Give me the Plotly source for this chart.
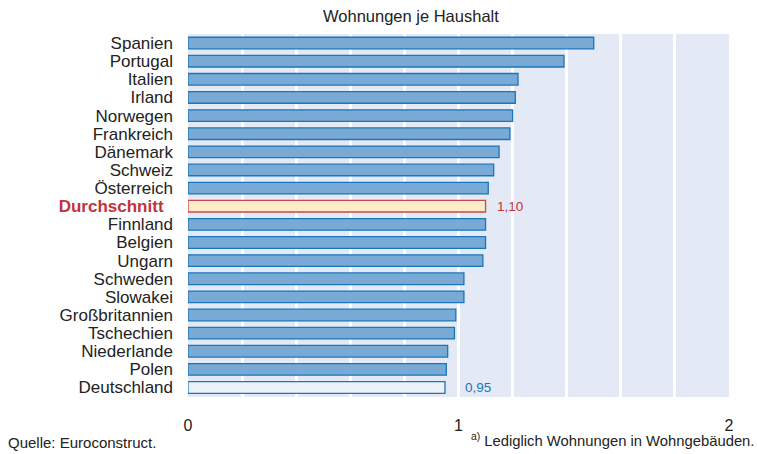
import plotly.graph_objects as go

countries = ["Spanien", "Portugal", "Italien", "Irland", "Norwegen", "Frankreich",
             "Dänemark", "Schweiz", "Österreich", "Durchschnitt", "Finnland", "Belgien",
             "Ungarn", "Schweden", "Slowakei", "Großbritannien", "Tschechien",
             "Niederlande", "Polen", "Deutschland"]
values = [1.50, 1.39, 1.22, 1.21, 1.20, 1.19, 1.15, 1.13, 1.11, 1.10, 1.10, 1.10,
          1.09, 1.02, 1.02, 0.99, 0.985, 0.96, 0.955, 0.95]
tick_vals = [0, 1, 2]
tick_text = ["0", "1", "2"]

BLUE_FILL = "#79aad5"
BLUE_LINE = "#1b75bb"
RED = "#c4323a"

fills, lines = [], []
for c in countries:
    if c == "Durchschnitt":
        fills.append("#fbedc8"); lines.append("#d0464c")
    elif c == "Deutschland":
        fills.append("#edf2f9"); lines.append(BLUE_LINE)
    else:
        fills.append(BLUE_FILL); lines.append(BLUE_LINE)

ticklabels = []
for c in countries:
    if c == "Durchschnitt":
        ticklabels.append(f"<b><span style='color:{RED}'>{c}</span></b>  ")
    else:
        ticklabels.append(c)

fig = go.Figure(go.Bar(
    x=values, y=countries, orientation="h",
    marker=dict(color=fills, line=dict(color=lines, width=1.3)),
    width=0.64, hoverinfo="skip",
))

fig.update_layout(
    width=757, height=454,
    margin=dict(l=188, r=28, t=34, b=57),
    paper_bgcolor="white", plot_bgcolor="#e3eaf5",
    font=dict(family="Liberation Sans, Arial, sans-serif", size=14, color="#222"),
    showlegend=False,
    xaxis=dict(range=[0, 2], tickvals=tick_vals, ticktext=tick_text,
               showgrid=True, gridcolor="white", gridwidth=3, zeroline=False,
               minor=dict(dtick=0.2, showgrid=True, gridcolor="white", gridwidth=3),
               ticks="", tickfont=dict(size=16), ticklabelstandoff=17, fixedrange=True),
    yaxis=dict(autorange="reversed", tickvals=countries, ticktext=ticklabels,
               showgrid=False, ticks="", ticklabelstandoff=14, tickfont=dict(size=17),
               fixedrange=True),
)

for c, v in zip(countries, values):
    if c == "Durchschnitt":
        fig.add_annotation(x=v, y=c, text="1,10", showarrow=False, xanchor="left",
                           xshift=9, font=dict(color=RED, size=13.5))
    if c == "Deutschland":
        fig.add_annotation(x=v, y=c, text="0,95", showarrow=False, xanchor="left",
                           xshift=18, font=dict(color="#1b75bb", size=13.5))

fig.add_annotation(xref="paper", yref="paper", x=(411 - 188) / 541, y=1, yshift=7,
                   yanchor="bottom", text="Wohnungen je Haushalt", showarrow=False,
                   font=dict(size=16.5))
fig.add_annotation(xref="paper", yref="paper", x=-188 / 541, xshift=6, y=0, yshift=-35,
                   xanchor="left", yanchor="top", text="Quelle: Euroconstruct.",
                   showarrow=False, font=dict(size=15))
fig.add_annotation(xref="paper", yref="paper", x=1 + 28 / 541, xshift=-1, y=0, yshift=-32,
                   xanchor="right", yanchor="top",
                   text="<sup>a)</sup> Lediglich Wohnungen in Wohngebäuden.",
                   showarrow=False, font=dict(size=14.8))

fig.write_html("out.html", config={"displayModeBar": False},
               post_script="document.body.style.margin='0';")
